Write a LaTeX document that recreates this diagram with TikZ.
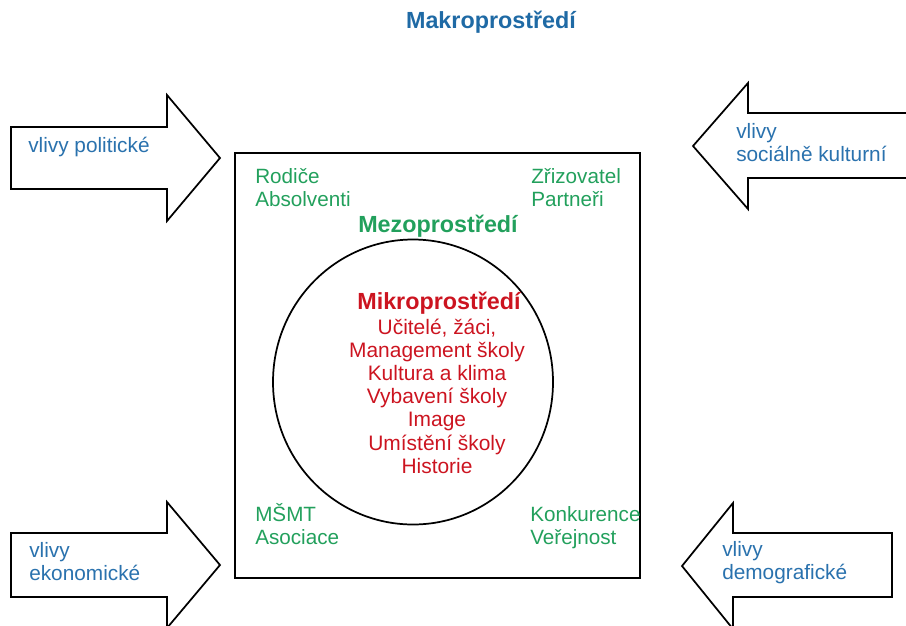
\documentclass[tikz,border=0pt]{standalone}
\usepackage{fontspec}
\setmainfont{Liberation Sans}
\usetikzlibrary{shapes.geometric}
\definecolor{tblue}{HTML}{1F6AA5}
\definecolor{ablue}{HTML}{2A72AE}
\definecolor{mgreen}{HTML}{22A05C}
\definecolor{mred}{HTML}{CC1420}
\begin{document}
\begin{tikzpicture}[x=0.75pt,y=-0.75pt,
  shape line/.style={draw=black,line width=1.3pt,line join=miter,fill=white},
  atext/.style={text=ablue,font=\fontsize{15.6}{17}\selectfont,inner sep=0pt,anchor=mid west},
  gtext/.style={text=mgreen,font=\fontsize{15.5}{17}\selectfont,inner sep=0pt,anchor=mid west},
  rtext/.style={text=mred,font=\fontsize{15.7}{17}\selectfont,inner sep=0pt,anchor=mid},
  htext/.style={font=\bfseries\fontsize{17.5}{20}\selectfont,inner sep=0pt,anchor=mid}]
\useasboundingbox (0,0) rectangle (906,625);
\clip (0,0) rectangle (906,625);
% title
\node[htext,text=tblue] (title) at (491,25) {Makroprostředí};
% arrows
\draw[shape line] (11,127) -- (167,127) -- (167,95) -- (220,158) -- (167,221) -- (167,189) -- (11,189) -- cycle;
\draw[shape line] (915,113) -- (748,113) -- (748,83) -- (693,146) -- (748,209) -- (748,178) -- (915,178) -- cycle;
\draw[shape line] (11,533) -- (167,533) -- (167,502) -- (220,565) -- (167,628) -- (167,597) -- (11,597) -- cycle;
\draw[shape line] (892,533) -- (733,533) -- (733,503) -- (682,566) -- (733,629) -- (733,597) -- (892,597) -- cycle;
\node[atext] (a1) at (28,149) {vlivy politické};
\node[atext] (a2) at (736,135) {vlivy};
\node[atext] (a3) at (736,158) {sociálně kulturní};
\node[atext] (a4) at (29,554) {vlivy};
\node[atext] (a5) at (29,577) {ekonomické};
\node[atext] (a6) at (722,553) {vlivy};
\node[atext] (a7) at (722,576) {demografické};
% square and ellipse
\node[draw=black,line width=1.3pt,minimum width=405*0.75pt,minimum height=425*0.75pt,inner sep=0pt] (meso) at (437.5,365.5) {};
\node[draw=black,line width=1.3pt,ellipse,minimum width=280*0.75pt,minimum height=285*0.75pt,inner sep=0pt] (mikro) at (413,382) {};
% green
\node[gtext] (g1) at (255,180) {Rodiče};
\node[gtext] (g2) at (255,203) {Absolventi};
\node[gtext] (g3) at (531,180) {Zřizovatel};
\node[gtext] (g4) at (531,203) {Partneři};
\node[htext,text=mgreen] (gh) at (438,229) {Mezoprostředí};
\node[gtext] (g5) at (255,518) {MŠMT};
\node[gtext] (g6) at (255,541) {Asociace};
\node[gtext] (g7) at (530,518) {Konkurence};
\node[gtext] (g8) at (530,541) {Veřejnost};
% red
\node[htext,text=mred] (m0) at (439,306) {Mikroprostředí};
\node[rtext] (m1) at (437,331) {Učitelé, žáci,};
\node[rtext] (m2) at (437,354) {Management školy};
\node[rtext] (m3) at (437,377) {Kultura a klima};
\node[rtext] (m4) at (437,400) {Vybavení školy};
\node[rtext] (m5) at (437,423) {Image};
\node[rtext] (m6) at (437,447) {Umístění školy};
\begin{scope}
\clip (300,455) rectangle (580,478);
\node[rtext] (m7) at (437,470) {Historie};
\end{scope}
\end{tikzpicture}
\end{document}
